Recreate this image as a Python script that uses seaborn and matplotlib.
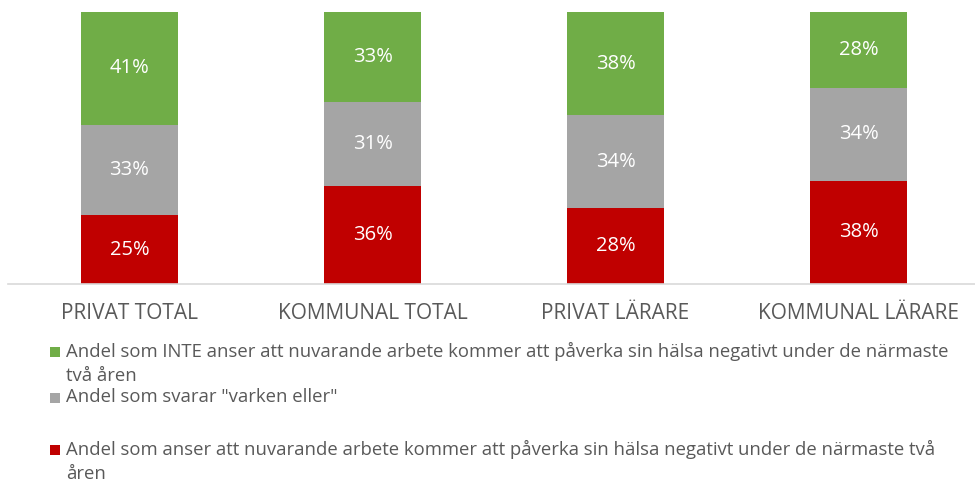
"""Stacked bars: perceived health impact of current work, private vs municipal."""

import matplotlib.pyplot as plt
from matplotlib.patches import Rectangle
import pandas as pd
import seaborn as sns

categories = ['PRIVAT TOTAL', 'KOMMUNAL TOTAL', 'PRIVAT LÄRARE', 'KOMMUNAL LÄRARE']
# shares; labels show them rounded
negativt = [25.2, 36, 28, 38]
varken = [33.4, 31, 34, 34]
inte_negativt = [41.4, 33, 38, 28]

series_names = [
    'Andel som anser att nuvarande arbete kommer att påverka sin hälsa '
    'negativt under de närmaste två\nåren',
    'Andel som svarar "varken eller"',
    'Andel som INTE anser att nuvarande arbete kommer att påverka sin hälsa '
    'negativt under de närmaste\ntvå åren',
]
series_values = [negativt, varken, inte_negativt]
series_colors = ['#c00000', '#a5a5a5', '#70ad47']

TEXT_GREY = '#595959'
FONTSIZE = 15
LABEL_FONTSIZE = 14.5
LEGEND_FONTSIZE = 13.3

sns.set_style('white')
plt.rcParams['font.family'] = ['Open Sans', 'DejaVu Sans']

fig = plt.figure(figsize=(9.75, 4.82), dpi=100)
ax = fig.add_axes([8 / 975, 198 / 482, 972 / 975, 272 / 482])

bottoms = [0] * len(categories)
for name, values, color in zip(series_names, series_values, series_colors):
  df = pd.DataFrame({'kategori': categories, 'andel': values})
  sns.barplot(data=df, x='kategori', y='andel', color=color, width=0.4,
              bottom=bottoms, saturation=1, ax=ax, linewidth=0)
  ax.bar_label(ax.containers[-1], labels=['%.0f%%' % v for v in values],
               label_type='center', color='white', fontsize=LABEL_FONTSIZE)
  bottoms = [b + v for b, v in zip(bottoms, values)]

ax.set_xlim(-0.5, 3.5)
ax.set_ylim(0, 100)
ax.set_xlabel('')
ax.set_ylabel('')
ax.set_yticks([])
sns.despine(ax=ax, left=True)
ax.spines['bottom'].set_color('#d9d9d9')
ax.spines['bottom'].set_linewidth(1.2)
ax.tick_params(axis='x', length=0, pad=14, labelsize=FONTSIZE,
               labelcolor=TEXT_GREY)

# Legend drawn by hand so that the square sits on the first text line.
# (centre of first line in pixels from the top, series index)
legend_rows = [(352, 2), (398, 1), (450, 0)]
for y_px, idx in legend_rows:
  y = 1 - y_px / 482
  fig.add_artist(Rectangle((50 / 975, y - 5 / 482), 10 / 975, 10 / 482,
                           transform=fig.transFigure,
                           color=series_colors[idx], linewidth=0))
  fig.text(66 / 975, y + 10 / 482, series_names[idx],
           fontsize=LEGEND_FONTSIZE, color=TEXT_GREY, va='top', ha='left',
           linespacing=1.4, transform=fig.transFigure)

fig.savefig('out.png', dpi=100)
